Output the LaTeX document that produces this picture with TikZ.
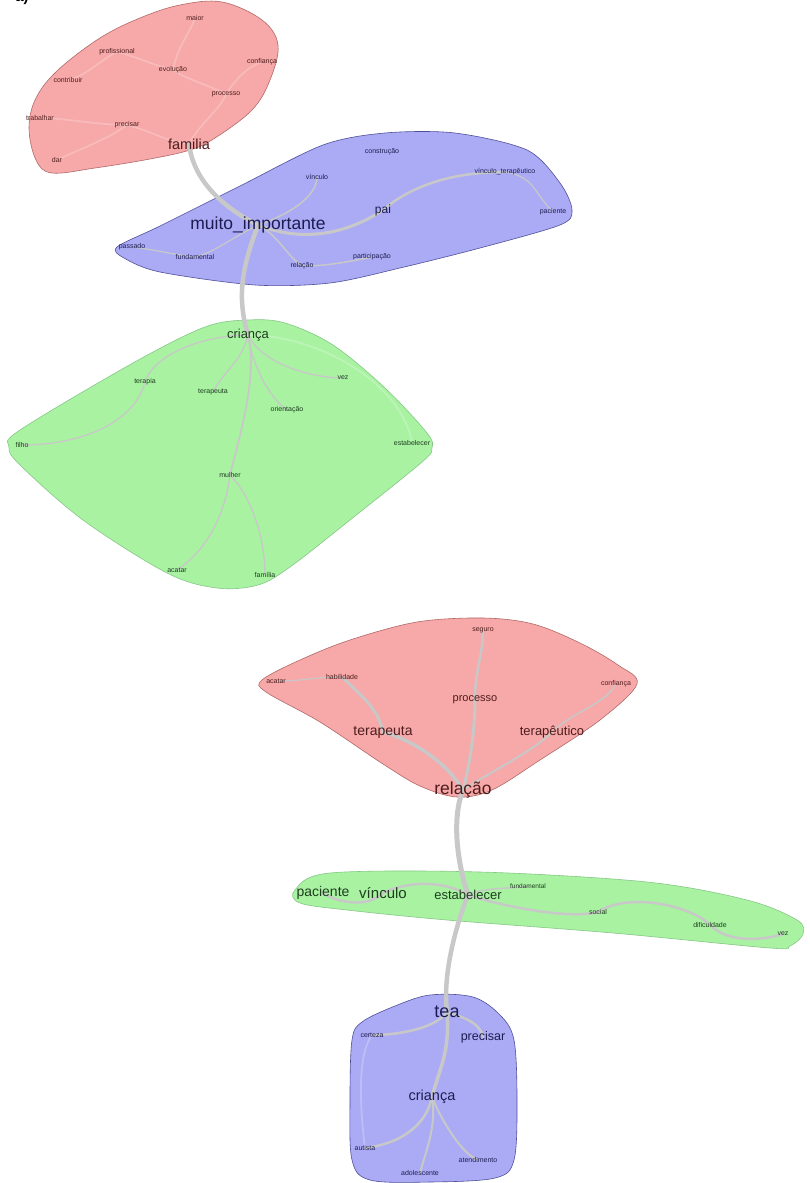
\documentclass[tikz,border=0pt]{standalone}
\usepackage{fontspec}
\setmainfont{Liberation Sans}
\definecolor{redfill}{HTML}{F7A8A8}
\definecolor{redline}{HTML}{B06A6A}
\definecolor{bluefill}{HTML}{ABABF5}
\definecolor{blueline}{HTML}{50509A}
\definecolor{greenfill}{HTML}{A8F2A2}
\definecolor{greenline}{HTML}{86C886}
\definecolor{redtxt}{HTML}{4E1C1C}
\definecolor{bluetxt}{HTML}{1C1C52}
\definecolor{greentxt}{HTML}{1E3E1E}
\definecolor{edgegray}{HTML}{C8C8C8}
\pgfdeclarelayer{blobs}
\pgfdeclarelayer{edges}
\pgfsetlayers{blobs,edges,main}
\tikzset{
  lab/.style={font=\fontsize{#1}{#1}\selectfont, inner sep=0pt},
  lab/.default=7,
  rt/.style={text=redtxt}, bt/.style={text=bluetxt}, gt/.style={text=greentxt},
  conn/.style={draw=edgegray, line width=#1, line cap=round},
  conn/.default=1.5,
  faintconn/.style={draw=white, opacity=0.22, line width=1.8, line cap=round},
  blobR/.style={fill=redfill, draw=redline, line width=0.6},
  blobB/.style={fill=bluefill, draw=blueline, line width=0.6},
  blobG/.style={fill=greenfill, draw=greenline, line width=0.6}
}
\begin{document}
\begin{tikzpicture}[x=1pt,y=-1pt]
\useasboundingbox (0,0) rectangle (810,1183);
\node[anchor=base, font=\bfseries\fontsize{15}{15}\selectfont] (tag) at (22,1.5) {a)};

% ---------- blobs ----------
\begin{pgfonlayer}{blobs}
\fill[white] (0,0) rectangle (810,1183);
\draw[blobR] plot[smooth cycle, tension=0.6] coordinates {
 (180,5) (222,2) (262,20) (278,45) (270,80) (252,110) (215,138) (190,150)
 (150,159) (95,168) (52,173) (36,160) (29,128) (36,98) (58,70) (100,38) (140,18)};
\draw[blobB] plot[smooth cycle, tension=0.5] coordinates {
 (117,247) (160,226) (240,186) (323,145) (385,133) (455,133) (527,150)
 (560,183) (572,210) (560,225) (480,248) (400,268) (330,283) (255,285) (160,272) (124,258)};
\draw[blobG] plot[smooth cycle, tension=0.55] coordinates {
 (248,320) (285,323) (333,345) (385,388) (427,433) (432,448) (422,462) (350,520)
 (290,567) (258,585) (217,588) (167,573) (83,520) (20,465) (9,447) (20,430) (133,363) (205,327)};
\draw[blobR] plot[smooth cycle, tension=0.55] coordinates {
 (262,680) (300,660) (350,640) (417,622) (483,618) (533,624) (580,643) (618,665)
 (637,684) (600,720) (540,760) (492,790) (457,797) (420,786) (383,764) (320,722) (266,692)};
\draw[blobG] plot[smooth cycle, tension=0.55] coordinates {
 (295,890) (330,873) (480,872) (647,882) (747,900) (797,920) (803,934) (790,946)
 (770,948) (613,933) (447,920) (347,910) (300,903)};
\draw[blobB] plot[smooth cycle, tension=0.55] coordinates {
 (430,995) (473,997) (500,1015) (514,1040) (517,1100) (514,1160) (495,1178)
 (430,1182) (370,1180) (352,1160) (350,1100) (352,1040) (362,1022) (395,1006)};
\end{pgfonlayer}

% ---------- labels: top red ----------
\node[lab,rt] (rmaior) at (195,18) {maior};
\node[lab,rt] (rprof) at (117,52) {profissional};
\node[lab,rt] (revol) at (173,70) {evolução};
\node[lab,rt] (rconf) at (262,62) {confiança};
\node[lab,rt] (rcontr) at (68,80) {contribuir};
\node[lab,rt] (rproc) at (226,94) {processo};
\node[lab,rt] (rtrab) at (40,118) {trabalhar};
\node[lab,rt] (rprec) at (127,125) {precisar};
\node[lab=14.5,rt] (fam) at (189,144) {familia};
\node[lab,rt] (rdar) at (57,160) {dar};

% ---------- labels: top blue ----------
\node[lab=17.5,bt] (mi) at (258,225) {muito\_importante};
\node[lab,bt] (bconst) at (382,152) {construção};
\node[lab,bt] (bvinc) at (317,177) {vínculo};
\node[lab,bt] (bvt) at (505,172) {vínculo\_terapêutico};
\node[lab=12,bt] (pai) at (383,210) {pai};
\node[lab,bt] (bpac) at (553,212) {paciente};
\node[lab,bt] (bpass) at (132,247) {passado};
\node[lab,bt] (bfund) at (195,257) {fundamental};
\node[lab,bt] (bpart) at (372,257) {participação};
\node[lab,bt] (brel) at (302,266) {relação};

% ---------- labels: top green ----------
\node[lab=13,gt] (cr) at (248,335) {criança};
\node[lab,gt] (gterapia) at (145,382) {terapia};
\node[lab,gt] (gterapeuta) at (213,392) {terapeuta};
\node[lab,gt] (gvez) at (343,378) {vez};
\node[lab,gt] (gorient) at (287,410) {orientação};
\node[lab,gt] (gfilho) at (22,445) {filho};
\node[lab,gt] (gestab) at (412,443) {estabelecer};
\node[lab,gt] (gmulher) at (230,475) {mulher};
\node[lab,gt] (gacatar) at (177,570) {acatar};
\node[lab,gt] (gfam) at (265,575) {família};

% ---------- labels: bottom red ----------
\node[lab=17.5,rt] (rel) at (463,790) {relação};
\node[lab,rt] (rseg) at (483,630) {seguro};
\node[lab,rt] (racatar) at (276,681) {acatar};
\node[lab,rt] (rhab) at (342,677) {habilidade};
\node[lab,rt] (rconf2) at (616,684) {confiança};
\node[lab=11,rt] (rproc2) at (475,700) {processo};
\node[lab=14,rt] (rterapeuta) at (383,732) {terapeuta};
\node[lab=13,rt] (rterapeutico) at (552,732) {terapêutico};

% ---------- labels: band green ----------
\node[lab=14,gt] (gpac) at (323,893) {paciente};
\node[lab=15,gt] (gvinc) at (383,893) {vínculo};
\node[lab=13,gt] (est) at (468,895) {estabelecer};
\node[lab=6.5,gt] (gfund) at (528,886) {fundamental};
\node[lab,gt] (gsocial) at (598,912) {social};
\node[lab,gt] (gdific) at (710,925) {dificuldade};
\node[lab,gt] (gvez2) at (783,934) {vez};

% ---------- labels: bottom blue ----------
\node[lab=18,bt] (tea) at (447,1012) {tea};
\node[lab,bt] (bcert) at (372,1035) {certeza};
\node[lab=12.5,bt] (bprec) at (483,1037) {precisar};
\node[lab=14.5,bt] (cr2) at (432,1097) {criança};
\node[lab,bt] (baut) at (365,1148) {autista};
\node[lab,bt] (batend) at (478,1160) {atendimento};
\node[lab,bt] (badol) at (420,1173) {adolescente};

% ---------- edges ----------
\begin{pgfonlayer}{edges}
% top red (faint)
\draw[faintconn] (fam.center) .. controls +(-30,-5) and +(30,8) .. (rprec.center);
\draw[faintconn] (rprec.center) .. controls +(-20,15) and +(20,-10) .. (rdar.center);
\draw[faintconn] (rprec.center) .. controls +(-30,0) and +(25,0) .. (rtrab.center);
\draw[faintconn] (fam.center) .. controls +(10,-20) and +(-5,15) .. (rproc.center);
\draw[faintconn] (rproc.center) .. controls +(10,-15) and +(-15,5) .. (rconf.center);
\draw[faintconn] (rproc.center) .. controls +(-20,-10) and +(15,10) .. (revol.center);
\draw[faintconn] (revol.center) .. controls +(-20,-5) and +(20,5) .. (rprof.center);
\draw[faintconn] (rprof.center) .. controls +(-20,10) and +(20,-5) .. (rcontr.center);
\draw[faintconn] (revol.center) .. controls +(5,-25) and +(-5,15) .. (rmaior.center);
% top blue
\draw[conn=4.5] (fam.center) .. controls +(5,40) and +(-30,-15) .. (mi.center);
\draw[conn=4.5] (mi.center) .. controls +(-15,40) and +(-12,-40) .. (cr.center);
\draw[conn=3] (mi.center) .. controls +(50,20) and +(-30,20) .. (pai.center);
\draw[conn=2.5] (pai.center) .. controls +(35,-30) and +(-40,0) .. (bvt.center);
\draw[conn=1.2] (bvt.center) .. controls +(30,5) and +(-20,-20) .. (bpac.center);
\draw[conn=1.5] (mi.center) .. controls +(30,-10) and +(0,20) .. (bvinc.center);
\draw[conn=1.5] (mi.center) .. controls +(20,10) and +(-15,-10) .. (brel.center);
\draw[conn=1.5] (brel.center) .. controls +(25,0) and +(-25,5) .. (bpart.center);
\draw[conn=1.2] (mi.center) .. controls +(-30,15) and +(20,-5) .. (bfund.center);
\draw[conn=1.2] (bfund.center) .. controls +(-25,-3) and +(25,3) .. (bpass.center);
% top green
\draw[conn=1.3] (cr.center) .. controls +(-40,0) and +(10,-30) .. (gterapia.center);
\draw[conn=1.3] (gterapia.center) .. controls +(-10,40) and +(60,0) .. (gfilho.center);
\draw[conn=1.3] (cr.center) .. controls +(-5,25) and +(10,-20) .. (gterapeuta.center);
\draw[conn=1.3] (cr.center) .. controls +(15,30) and +(-30,0) .. (gvez.center);
\draw[conn=1.3] (cr.center) .. controls +(5,35) and +(-15,-10) .. (gorient.center);
\draw[conn=1.8] (cr.center) .. controls +(10,40) and +(10,-40) .. (gmulher.center);
\draw[conn=1.3] (gmulher.center) .. controls +(-5,40) and +(30,-20) .. (gacatar.center);
\draw[conn=1.3] (gmulher.center) .. controls +(20,20) and +(0,-40) .. (gfam.center);
\draw[faintconn] (cr.center) .. controls +(70,0) and +(-10,-60) .. (gestab.center);
% bottom red
\draw[conn=3.5] (rel.center) .. controls +(-15,-25) and +(35,10) .. (rterapeuta.center);
\draw[conn=3] (rterapeuta.center) .. controls +(-5,-25) and +(15,15) .. (rhab.center);
\draw[conn=1.2] (rhab.center) .. controls +(-30,0) and +(30,0) .. (racatar.center);
\draw[conn=3] (rel.center) .. controls +(8,-30) and +(0,25) .. (rproc2.center);
\draw[conn=2.5] (rproc2.center) .. controls +(0,-30) and +(0,25) .. (rseg.center);
\draw[conn=2] (rel.center) .. controls +(30,-20) and +(-20,20) .. (rterapeutico.center);
\draw[conn=1.5] (rterapeutico.center) .. controls +(20,-20) and +(-10,20) .. (rconf2.center);
% links between clusters
\draw[conn=5] (rel.center) .. controls +(-12,30) and +(-10,-30) .. (est.center);
\draw[conn=4.5] (est.center) .. controls +(-10,25) and +(-5,-40) .. (tea.center);
% band
\draw[conn=2.5] (est.center) .. controls +(-25,-15) and +(25,-12) .. (gvinc.center);
\draw[conn=2.5] (gvinc.center) .. controls +(-15,15) and +(15,10) .. (gpac.center);
\draw[conn=1.5] (est.center) .. controls +(15,-8) and +(-15,3) .. (gfund.center);
\draw[conn=2.5] (est.center) .. controls +(30,10) and +(-30,8) .. (gsocial.center);
\draw[conn=2.5] (gsocial.center) .. controls +(30,-20) and +(-20,-20) .. (gdific.center);
\draw[conn=2.5] (gdific.center) .. controls +(20,20) and +(-15,5) .. (gvez2.center);
% bottom blue
\draw[conn=2.5] (tea.center) .. controls +(-10,15) and +(30,0) .. (bcert.center);
\draw[conn=2.5] (tea.center) .. controls +(15,5) and +(-3,-15) .. (bprec.center);
\draw[conn=3.5] (tea.center) .. controls +(3,40) and +(8,-30) .. (cr2.center);
\draw[conn=2.5] (cr2.center) .. controls +(-5,25) and +(40,-5) .. (baut.center);
\draw[conn=2] (cr2.center) .. controls +(5,30) and +(5,-20) .. (badol.center);
\draw[conn=2] (cr2.center) .. controls +(10,25) and +(-15,-5) .. (batend.center);
\draw[faintconn] (bcert.center) .. controls +(-15,20) and +(-5,-40) .. (baut.center);
\end{pgfonlayer}
\end{tikzpicture}
\end{document}
